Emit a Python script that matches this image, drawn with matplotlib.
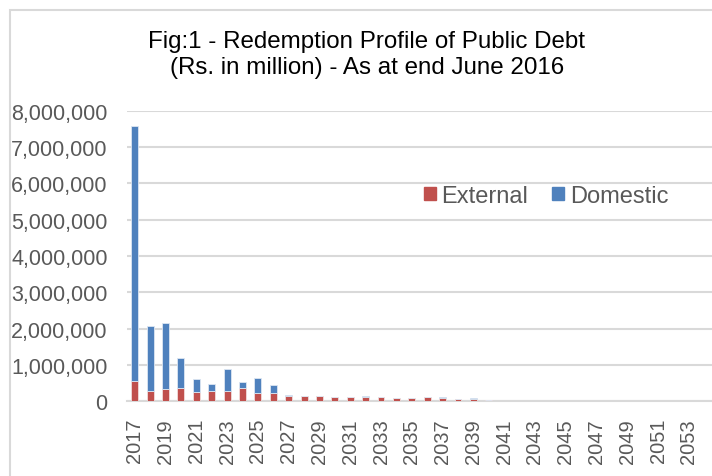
import numpy as np
import matplotlib
matplotlib.use("Agg")
import matplotlib.pyplot as plt
from matplotlib.patches import Rectangle, Patch
from matplotlib.ticker import FuncFormatter

plt.rcParams['font.family'] = ['Liberation Sans', 'DejaVu Sans']

years = list(range(2017, 2055))
external = [569000, 275000, 330000, 355000, 250000, 270000, 270000, 364000, 224000, 215000,
            150000, 150000, 145000, 120000, 112000, 112000, 107000, 97000, 88000, 116000,
            79000, 69000, 69000, 42000, 6000, 5000, 4000, 4000, 3000, 3000,
            2000, 2000, 2000, 1000, 1000, 1000, 1000, 1000]
domestic = [7018000, 1798000, 1835000, 835000, 376000, 216000, 618000, 159000, 412000, 225000,
            28000, 3000, 0, 0, 0, 38000, 5000, 0, 3000, 0,
            37000, 0, 28000, 0, 0, 0, 0, 0, 0, 0,
            0, 0, 0, 0, 0, 0, 0, 0]

red = '#C0504D'
blue = '#4F81BD'
grey_txt = '#595959'
grid_c = '#D9D9D9'

W, H = 712, 477
fig = plt.figure(figsize=(W / 100, H / 100), dpi=100)
ax = fig.add_axes([127 / W, (H - 402.3) / H, (712 - 127) / W, (402.3 - 111.7) / H])

x = np.arange(len(years))
ax.bar(x, external, width=0.45, color=red, edgecolor='#F2DCDB', linewidth=0.6, zorder=3)
ax.bar(x, domestic, width=0.45, bottom=external, color=blue, edgecolor='#DCE6F2',
       linewidth=0.6, zorder=3)

ax.set_xlim(-0.5, len(years) - 0.5)
ax.set_ylim(0, 8000000)
ax.set_yticks(np.arange(0, 8000001, 1000000))
ax.yaxis.set_major_formatter(FuncFormatter(lambda v, p: f"{int(v):,}"))
ax.set_xticks(x[::2])
ax.set_xticklabels([str(y) for y in years[::2]], rotation=90)

ax.grid(axis='y', color=grid_c, linewidth=1.5, zorder=0)
for s in ['top', 'right', 'left']:
    ax.spines[s].set_visible(False)
ax.spines['bottom'].set_color(grid_c)
ax.spines['bottom'].set_linewidth(1.5)
ax.tick_params(axis='both', length=0, colors=grey_txt)
ax.tick_params(axis='y', pad=14, labelsize=15.5)
ax.tick_params(axis='x', pad=12, labelsize=14.5)

fig.text(367 / W, 1 - 42 / H, "Fig:1 - Redemption Profile of Public Debt",
         ha='center', va='center', fontsize=17.4, color='black')
fig.text(367 / W, 1 - 68 / H, "(Rs. in million) - As at end June 2016",
         ha='center', va='center', fontsize=17.4, color='black')

handles = [Patch(color=red, label='External'), Patch(color=blue, label='Domestic')]
fig.legend(handles=handles, loc='center', bbox_to_anchor=(546 / W, 1 - 197 / H), ncol=2,
           frameon=False, fontsize=17, labelcolor=grey_txt, handlelength=0.5,
           handleheight=0.5, handletextpad=0.25, columnspacing=1.0)

fig.add_artist(Rectangle((10 / W, -0.05), 1.0, 1.05 - 11 / H, transform=fig.transFigure,
                         fill=False, edgecolor=grid_c, linewidth=1.5))

fig.savefig("out.png", dpi=100)
